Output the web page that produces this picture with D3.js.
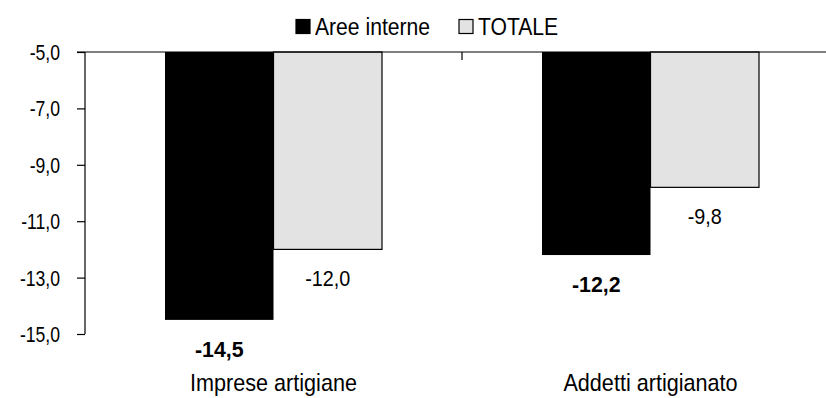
<!DOCTYPE html>
<html>
<head>
<meta charset="utf-8">
<script src="https://cdn.jsdelivr.net/npm/d3@7"></script>
<style>
  html, body { margin: 0; padding: 0; background: #fff; }
  svg { display: block; }
  text { font-family: "Liberation Sans", Arial, sans-serif; fill: #000; }
</style>
</head>
<body>
<svg id="chart" width="826" height="398"></svg>
<script>
// Variazione percentuale: imprese artigiane e addetti
const categories = ["Imprese artigiane", "Addetti artigianato"];
const seriesNames = ["Aree interne", "TOTALE"];
const areeInterne = [-14.5, -12.2];
const totale = [-12.0, -9.8];
const yTicks = [-5, -7, -9, -11, -13, -15];

const seriesFill = ["#000000", "#e3e3e3"];
const seriesBold = [true, false];
const values = [areeInterne, totale];

const fmt = v => d3.format(".1f")(v).replace("−", "-").replace(".", ",");

const svg = d3.select("#chart");
const plotLeft = 85, plotTop = 52, plotBottom = 334, plotRight = 839;

// Condensed text: regular sans squeezed horizontally
function label(parent, x, y, str, size, sx, anchor, weight) {
  const g = parent.append("g").attr("transform", `translate(${x},${y}) scale(${sx},1)`);
  g.append("text")
    .attr("text-anchor", anchor)
    .attr("font-size", size)
    .attr("font-weight", weight || "normal")
    .text(str);
  return g;
}

const y = d3.scaleLinear().domain([-5, -15]).range([plotTop, plotBottom]);
const x0 = d3.scaleBand().domain(categories).range([plotLeft, plotRight]).padding(0);
const x1 = d3.scaleBand().domain(seriesNames).range([80, x0.bandwidth() - 80]).padding(0);

// Bars hang from the -5,0 baseline
categories.forEach((c, ci) => {
  seriesNames.forEach((s, si) => {
    const v = values[si][ci];
    const bx = x0(c) + x1(s);
    svg.append("rect")
      .attr("x", bx)
      .attr("y", y(-5))
      .attr("width", x1.bandwidth())
      .attr("height", y(v) - y(-5))
      .attr("fill", seriesFill[si])
      .attr("stroke", "#000")
      .attr("stroke-width", si === 0 ? 0 : 1.2);
    if (seriesBold[si]) {
      label(svg, bx + x1.bandwidth() / 2, y(v) + 37, fmt(v), 22, 0.97, "middle", "bold");
    } else {
      label(svg, bx + x1.bandwidth() / 2, y(v) + 37, fmt(v), 22, 0.9, "middle");
    }
  });
});

// Y axis: line and ticks from d3.axisLeft, labels drawn condensed
const yAxis = d3.axisLeft(y).tickValues(yTicks).tickSize(8).tickFormat("");
const gy = svg.append("g").attr("transform", `translate(${plotLeft},0)`).call(yAxis);
gy.select(".domain").attr("d", `M0,${plotTop}V${plotBottom}`).attr("stroke", "#000").attr("stroke-width", 1.2);
gy.selectAll(".tick line").attr("stroke", "#000").attr("stroke-width", 1.2);
gy.selectAll(".tick text").remove();
yTicks.forEach(t => label(svg, 60, y(t) + 8, fmt(t), 22, 0.8, "end"));

// Category axis along the top baseline
svg.append("line")
  .attr("x1", plotLeft - 8).attr("x2", plotRight)
  .attr("y1", y(-5)).attr("y2", y(-5))
  .attr("stroke", "#000").attr("stroke-width", 1.2);
svg.append("line")
  .attr("x1", x0(categories[1])).attr("x2", x0(categories[1]))
  .attr("y1", y(-5)).attr("y2", y(-5) + 8)
  .attr("stroke", "#000").attr("stroke-width", 1.2);

// Category labels below the plot
categories.forEach(c => {
  label(svg, x0(c) + x0.bandwidth() / 2, 391, c, 24, 0.9, "middle");
});

// Legend
const legend = [
  { name: seriesNames[0], fill: seriesFill[0], x: 296 },
  { name: seriesNames[1], fill: seriesFill[1], x: 459 }
];
legend.forEach(l => {
  svg.append("rect")
    .attr("x", l.x).attr("y", 19.5)
    .attr("width", 14).attr("height", 14)
    .attr("fill", l.fill)
    .attr("stroke", "#000").attr("stroke-width", 1.2);
  label(svg, l.x + 19, 35, l.name, 24, 0.88, "start");
});
</script>
</body>
</html>
